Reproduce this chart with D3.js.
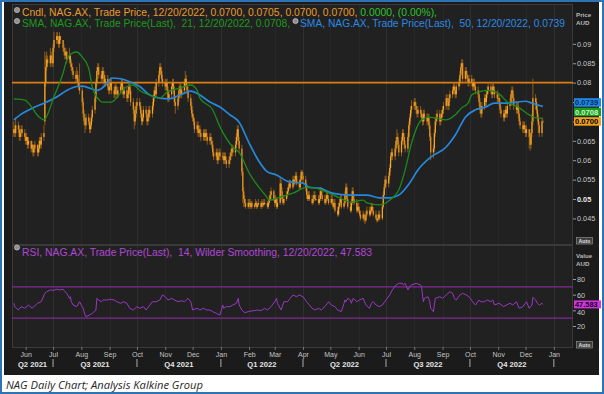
<!DOCTYPE html>
<html><head><meta charset="utf-8">
<script src="https://cdn.jsdelivr.net/npm/d3@7"></script>
<style>html,body{margin:0;padding:0;background:#fff;}svg{display:block;}text{white-space:pre;}</style>
</head><body><svg id="c" width="604" height="394"></svg>
<script>
// ---------------- DATA (prices in thousandths of AUD) ----------------
const firstDay = "2021-05-19", lastDay = "2022-12-20"; // trading days (weekdays)
const opens = [
 67,68,67,69,68,66,67,68,67,
 66,65,66,64,65,63,64,62,63,64,62,63,65,64,66,70,80,84,86,85,87,86,
 85,89,91,92,91,90,92,91,89,88,87,88,86,87,85,84,83,82,81,82,80,79,
 78,75,72,70,69,71,70,68,69,71,73,76,80,83,84,82,81,83,82,80,81,79,
 78,79,80,78,77,79,78,77,78,79,80,78,77,78,76,77,79,78,75,73,70,72,
 74,75,74,72,70,71,73,72,70,71,73,72,74,76,78,77,80,82,84,83,81,
 80,79,80,78,76,77,79,80,78,75,74,76,78,79,77,78,80,81,79,78,76,74,
 72,71,70,68,69,67,68,67,66,67,66,67,66,65,66,65,64,62,61,62,60,61,62,
 61,61,60,61,60,59,60,61,62,63,62,64,66,68,65,63,57,52,50,49,48,
 49,49,48,49,48,48.5,49,48,48.5,49,48,49,48.5,49,49,48,49,50,51,52,
 50,49,50,48,49,54,52,50,49,50,51,52,53,54,53,55,54,55,56,54,53,55,57,
 56,55,53,51,50,51,50,49,50,51,50,50,49,50,52,51,50,49,50,51,50,
 49,50,49,48,49,47,46,48,49,50,48,49,51,53,50,48,47,49,52,50,49,47,
 48,47,46,45,46,45,44.5,46,47,46,47,48,47,46,45,44.5,45,46,45,48,51,53,
 55,54,56,58,61,62,61,63,65,66,64,62,65,67,66,64,63,66,69,71,73,
 74,75,74,73,72,73,72,71,70,72,71,70,71,69,66,62,63,67,70,71,72,70,71,
 72,73,74,76,75,74,76,77,78,79,78,77,79,80,82,84,85,81,83,82,81,80,
 81,80,79,80,79,78,77,75,73,72,74,76,75,77,78,79,78,77,79,78,77,
 76,76,75,73,72,71,72,73,72,74,75,77,78,76,74,73,74,72,70,69,68,69,
 68,67,68,66,64,67,70,76,75,73,71,69,67,70];
const highs = [
 70,69,71,70,69,68,69,69,68,
 67,67,66,66,65,65,64,64,65,64,64,66,66,67,69,88,87,88,87,89,88,87,
 90,93,93,93,92,93,92,91,90,89,89,88,89,87,86,85,84,83,84,83,81,85,
 79,76,73,71,72,72,71,70,72,74,77,81,84,85,85,83,84,84,83,82,82,80,
 80,81,81,79,80,80,79,79,80,81,81,79,79,79,78,80,80,79,76,74,73,75,
 76,76,75,73,72,74,74,73,72,74,74,75,77,79,79,81,83,85,85,84,82,
 81,81,81,79,78,80,81,81,79,76,77,79,80,80,79,81,83,82,80,79,77,75,
 73,72,71,70,70,69,69,68,68,68,68,68,67,67,67,66,65,63,63,63,62,63,63,
 62,62,62,62,61,61,62,63,64,64,65,67,69,69,66,64,58,53,51,50,50,
 50,50,49.5,49.5,49,50,49.5,49,50,49.5,50,49.5,50,50,49.5,50,51,52,53,52.5,
 51,51,50.5,50,55.5,55,53,51,51,52,53,54,55,55,56,56,56,57,57,55,56,57.5,57.5,
 57,56,54,52,52,52,51,51,52,52,51,51,51,53,53,52,51,51,52,52,51,
 51,51,50,50,50,48,49,50,51,51,50,52,54,54,51,49,50,53,53,51,50,49,
 49,48,47,47,46.5,46,47,48,48,48,49,49,48,47,46,46,47,47,49,52,54,56,
 56,57,59,62,63,63,64,66,68,67,65,66,68,68,67,65,67,70,72,74,75.5,
 76,76,75,74,74,74,73,72,73,73,72,72,72,70,67,64,68,71,72,73,73,72,73,
 74,75,77,77,76,77,78,79,80,80,79,80,81,83,85,86,86,84,84,83,82,82,
 82,81,81,81,80,79,78,76,74,75,77,77,78,79,80,80,79,80,80,79,78,
 77,77,76,74,73,73,74,74,75,76,78,79,79,77,75,75,75,73,71,70,70,70,
 69,69,68,67,68,72,81,77,76,74,72,70,71,70.5];
const lows = [
 66,66,66,67,65,65,66,66,65,
 64,64,63,63,62,62,61,61,62,61,61,62,63,63,65,69,79,83,84,84,85,84,
 84,88,90,90,89,89,90,88,87,86,86,85,85,84,83,82,81,80,80,79,78,77,
 74,71,69,67,68,69,67,67,68,70,72,75,79,82,81,80,80,81,79,79,78,77,
 77,78,77,76,76,77,76,76,77,78,77,76,76,75,75,76,77,74,72,68,69,71,
 73,73,71,69,69,70,71,69,69,70,71,71,73,75,76,76,79,81,82,80,79,
 78,78,77,75,75,76,78,77,74,72,73,75,77,76,76,77,79,78,77,75,73,71,
 70,69,67,67,66,66,66,65,65,65,65,65,64,64,64,63,61,60,60,59,59,60,60,
 60,59,59,59,58,58,59,60,61,61,61,63,65,64,62,56,49,48,48,47.5,47.5,
 48,47.5,47.5,47.5,47.5,48,47.5,47.5,48,47.5,47.5,48,48,48.5,47.5,47.5,48.5,49.5,50,49.5,
 48,48.5,47.5,47.5,48.5,51.5,49.5,48.5,48.5,49.5,50.5,51.5,52.5,52.5,52.5,53.5,53.5,54.5,53.5,52.5,52.5,54.5,55,
 54,52,50,49.5,49.5,49.5,48.5,48.5,49.5,49.5,49.5,48.5,48.5,49.5,50.5,49.5,48.5,48.5,49.5,49.5,48.5,
 48.5,48.5,47.5,47.5,46.5,45.5,45.5,47.5,48.5,47.5,47.5,48.5,50.5,49.5,47.5,46.5,46.5,48.5,49.5,48.5,46.5,46.5,
 46.5,45.5,44.5,44.5,44,43.5,44,45.5,45.5,45.5,46.5,46.5,45.5,44.5,44,44,44.5,44.5,44.5,47.5,50.5,52.5,
 53,53,55,57,60,60,60,62,64,63,61,61,64,65,63,62,62,65,68,70,72,
 73,73,72,71,71,71,70,69,69,70,69,69,68,65,60,60.5,62,66,69,70,69,69,70,
 71,72,73,74,73,73,75,76,77,77,76,76,78,79,81,83,80,80,81,80,79,79,
 79,78,78,78,77,76,74,72,71,71,73,74,74,76,77,77,76,76,77,76,75,
 75,74,72,71,70,70,71,71,71,73,74,76,75,73,72,72,71,69,68,67,67,67,
 66,66,63,62.5,63,66,69,73,72,70,67,66,66,70];
const closes = [
 68,67,69,68,66,67,68,67,66,
 65,66,64,65,63,64,62,63,64,62,63,65,64,66,67,80,84,86,85,87,86,85,
 89,91,92,91,90,92,91,89,88,87,88,86,87,85,84,83,82,81,82,80,79,78,
 75,72,70,69,71,70,68,69,71,73,76,80,83,84,82,81,83,82,80,81,79,78,
 79,80,78,77,79,78,77,78,79,80,78,77,78,76,77,79,78,75,73,70,72,74,
 75,74,72,70,71,73,72,70,71,73,72,74,76,78,77,80,82,84,83,81,80,
 79,80,78,76,77,79,80,78,75,74,76,78,79,77,78,80,81,79,78,76,74,72,
 71,70,68,69,67,68,67,66,67,66,67,66,65,66,65,64,62,61,62,60,61,62,61,
 61,60,61,60,59,60,61,62,63,62,64,66,68,65,63,57,52,50,49,48,49,
 49,48,49,48,48.5,49,48,48.5,49,48,49,48.5,49,49,48,49,50,51,52,50,
 49,50,48,49,54,52,50,49,50,51,52,53,54,53,55,54,55,56,54,53,55,57,56,
 55,53,51,50,51,50,49,50,51,50,50,49,50,52,51,50,49,50,51,50,49,
 50,49,48,49,47,46,48,49,50,48,49,51,53,50,48,47,49,52,50,49,47,48,
 47,46,45,46,45,44.5,46,47,46,47,48,47,46,45,44.5,45,46,45,48,51,53,55,
 54,56,58,61,62,61,63,65,66,64,62,65,67,66,64,63,66,69,71,73,74,
 75,74,73,72,73,72,71,70,72,71,70,71,69,66,62,63,67,70,71,72,70,71,72,
 73,74,76,75,74,76,77,78,79,78,77,79,80,82,84,85,81,83,82,81,80,81,
 80,79,80,79,78,77,75,73,72,74,76,75,77,78,79,78,77,79,78,77,76,
 76,75,73,72,71,72,73,72,74,75,77,78,76,74,73,74,72,70,69,68,69,68,
 67,68,66,64,67,70,76,75,73,71,69,67,70,70];

const sma21Dates = ["2021-05-19","2021-05-31","2021-06-16","2021-06-21","2021-07-02","2021-07-12","2021-07-16","2021-07-22","2021-07-27","2021-08-02","2021-08-09","2021-08-13","2021-08-19","2021-08-24","2021-09-03","2021-09-13","2021-09-20","2021-09-27","2021-10-04","2021-10-15","2021-10-26","2021-11-03","2021-11-17","2021-11-29","2021-12-06","2021-12-09","2021-12-23","2021-12-31","2022-01-14","2022-01-21","2022-02-01","2022-02-21","2022-02-23","2022-03-07","2022-03-21","2022-04-05","2022-04-15","2022-04-27","2022-05-11","2022-05-23","2022-06-06","2022-06-10","2022-06-24","2022-07-05","2022-07-15","2022-07-22","2022-07-29","2022-08-09","2022-08-17","2022-08-24","2022-09-05","2022-09-15","2022-09-22","2022-09-29","2022-10-03","2022-10-10","2022-10-21","2022-11-01","2022-11-11","2022-11-23","2022-12-05","2022-12-12","2022-12-20"];
const sma21Values = [75.8,75.5,71.1,70.4,76.4,82.5,85.8,87.6,87.9,86.6,83.8,78.9,76.0,75.0,75.0,77.3,79.0,79.4,78.0,76.8,76.0,77.6,78.6,79.4,78.0,76.0,73.0,68.6,63.4,62.0,56.7,50.3,49.7,50.5,51.5,53.0,52.8,51.8,50.3,49.2,49.7,49.0,48.5,49.7,52.3,57.5,64.4,70.4,71.1,70.9,70.4,71.7,73.5,74.7,76.8,77.6,78.0,77.3,75.0,73.7,71.7,70.9,70.8];

const sma50Dates = ["2021-05-19","2021-05-26","2021-06-09","2021-06-24","2021-07-05","2021-07-16","2021-07-27","2021-08-02","2021-08-10","2021-08-18","2021-08-30","2021-09-03","2021-09-13","2021-09-23","2021-10-04","2021-10-15","2021-10-26","2021-11-05","2021-11-17","2021-11-29","2021-12-09","2021-12-20","2021-12-31","2022-01-11","2022-01-21","2022-02-01","2022-02-11","2022-02-21","2022-03-03","2022-03-17","2022-04-01","2022-04-08","2022-04-19","2022-05-03","2022-05-23","2022-06-10","2022-06-24","2022-07-05","2022-07-15","2022-07-26","2022-08-05","2022-08-19","2022-09-05","2022-09-15","2022-09-26","2022-10-07","2022-10-18","2022-10-28","2022-11-09","2022-11-21","2022-12-01","2022-12-08","2022-12-20"];
const sma50Values = [70.4,71.7,73.5,75.0,76.3,78.0,79.0,79.1,78.6,78.0,80.0,81.2,81.0,80.2,79.0,76.8,76.0,75.8,76.8,77.8,76.8,75.0,73.7,71.7,69.8,64.4,60.0,57.0,56.2,54.4,54.1,53.0,52.8,51.5,51.0,51.0,50.3,50.3,51.0,53.8,57.5,60.8,63.4,66.5,71.1,73.0,73.7,74.7,74.7,75.0,75.2,74.7,73.9];

const rsiDates = ["2021-05-19","2021-05-20","2021-05-24","2021-05-27","2021-05-31","2021-06-04","2021-06-08","2021-06-14","2021-06-18","2021-06-22","2021-06-24","2021-06-28","2021-07-01","2021-07-05","2021-07-08","2021-07-12","2021-07-14","2021-07-16","2021-07-19","2021-07-20","2021-07-21","2021-07-23","2021-07-27","2021-07-30","2021-08-02","2021-08-03","2021-08-05","2021-08-06","2021-08-10","2021-08-13","2021-08-17","2021-08-18","2021-08-20","2021-08-23","2021-08-25","2021-08-30","2021-09-01","2021-09-06","2021-09-09","2021-09-13","2021-09-16","2021-09-20","2021-09-23","2021-09-27","2021-10-01","2021-10-04","2021-10-08","2021-10-11","2021-10-18","2021-10-22","2021-10-26","2021-10-29","2021-11-01","2021-11-04","2021-11-08","2021-11-11","2021-11-15","2021-11-19","2021-11-22","2021-11-26","2021-11-29","2021-12-01","2021-12-06","2021-12-09","2021-12-13","2021-12-16","2021-12-20","2021-12-23","2021-12-27","2021-12-31","2022-01-03","2022-01-04","2022-01-07","2022-01-11","2022-01-14","2022-01-18","2022-01-20","2022-01-21","2022-01-24","2022-01-27","2022-01-31","2022-02-03","2022-02-07","2022-02-10","2022-02-14","2022-02-18","2022-02-21","2022-02-25","2022-03-01","2022-03-03","2022-03-04","2022-03-08","2022-03-11","2022-03-15","2022-03-18","2022-03-21","2022-03-25","2022-03-28","2022-04-01","2022-04-05","2022-04-11","2022-04-14","2022-04-18","2022-04-21","2022-04-25","2022-04-28","2022-04-29","2022-05-02","2022-05-06","2022-05-09","2022-05-13","2022-05-16","2022-05-17","2022-05-18","2022-05-20","2022-05-23","2022-05-24","2022-05-26","2022-05-30","2022-06-02","2022-06-06","2022-06-09","2022-06-13","2022-06-15","2022-06-17","2022-06-20","2022-06-24","2022-06-27","2022-07-01","2022-07-05","2022-07-08","2022-07-12","2022-07-15","2022-07-19","2022-07-20","2022-07-22","2022-07-25","2022-07-27","2022-07-29","2022-08-03","2022-08-08","2022-08-09","2022-08-10","2022-08-11","2022-08-12","2022-08-16","2022-08-18","2022-08-19","2022-08-22","2022-08-24","2022-08-29","2022-09-01","2022-09-05","2022-09-09","2022-09-12","2022-09-14","2022-09-16","2022-09-20","2022-09-23","2022-09-27","2022-09-30","2022-10-04","2022-10-07","2022-10-11","2022-10-13","2022-10-17","2022-10-20","2022-10-24","2022-10-26","2022-10-28","2022-11-02","2022-11-07","2022-11-10","2022-11-14","2022-11-17","2022-11-21","2022-11-24","2022-11-28","2022-12-02","2022-12-05","2022-12-08","2022-12-09","2022-12-12","2022-12-14","2022-12-16","2022-12-19","2022-12-20"];
const rsiValues = [49,44.7,40.4,44.7,42.6,46.8,42.6,49,51,61.7,63.8,66,65.5,66.9,66,66.9,63.8,61.7,55.3,57.4,51,46.8,44.7,51,44.7,42.6,34,31.9,34,36.2,40.4,55.3,53.2,51,53.2,53.2,54.1,53.2,51,49,51,49,42.6,40.4,44.7,42.6,44.7,40.4,51,51,53.2,59.6,57.4,53.2,55.3,53.2,51,52.3,51,55.3,51,40.4,42.6,40.4,42.6,40.4,40.4,38.3,36.2,34,46.8,42.6,44.7,44.7,46.8,49,55.3,46.8,40.4,37,38.3,39.2,39.6,40.4,39.6,42.6,40.4,44.7,51,55.3,49,40.4,51,51,55.3,59.6,57.4,59.6,57.4,51,42.6,40.4,42.6,40.4,44.7,49,51,46.8,44.7,40.4,38.3,49,53.2,51,55.3,53.2,49,55.3,51,53.2,55.3,46.8,42.6,49,51,46.8,44.7,46.8,53.2,59.6,66,72.4,74.5,74.5,72.4,74.5,66,70.2,72.4,74.5,72.4,70.2,59.6,51,55.3,57.4,51,42.6,38.3,55.3,57.4,55.3,59.6,63.8,61.7,55.3,53.2,59.6,61.7,59.6,57.4,51,46.8,53.2,51,51,53.2,51,53.2,46.8,49,44.7,46.8,49,46.8,51,42.6,44.7,51,42.6,46.8,56.6,53.2,49,46.8,49,47.583];

const priceTicks = [0.045,0.05,0.055,0.06,0.065,0.07,0.075,0.08,0.085,0.09];
const priceTicksCovered = [0.07,0.075]; // labels hidden behind the last-value boxes
const rsiTicks = [20,40,60,80];
const resistanceLevel = 0.08;
const rsiBands = [70,30];
const quarterLabels = ["Q2 2021","Q3 2021","Q4 2021","Q1 2022","Q2 2022","Q3 2022","Q4 2022"];
const lastValues = {sma50:0.0739, sma21:0.0708, close:0.0700, rsi:47.583};

// ---------------- LAYOUT ----------------
const W=604,H=394, L=12, R=573, pTop=4, pBot=244, rTop=245, rBot=347;
const svg=d3.select("#c");
const parse=d3.timeParse("%Y-%m-%d");
const FONT="'Liberation Sans', Arial, sans-serif";

svg.append("rect").attr("width",W).attr("height",H).attr("fill","#fff");
svg.append("rect").attr("x",1).attr("y",1).attr("width",W-2).attr("height",H-2)
  .attr("fill","none").attr("stroke","#2e74b5").attr("stroke-width",2);
svg.append("rect").attr("x",4).attr("y",2).attr("width",595).attr("height",373).attr("fill","#1b1b1b");
svg.append("rect").attr("x",L).attr("y",pTop).attr("width",R-L).attr("height",rBot-pTop).attr("fill","#212121");

const x=d3.scaleTime().domain([new Date(2021,4,17),new Date(2023,0,22)]).range([L,R]);
const yp=d3.scaleLinear().domain([0.0384,0.0977]).range([pBot,pTop+10]);
const yr=d3.scaleLinear().domain([-6.8,123.4]).range([rBot,rTop]);

// vertical grid at month starts
const months=d3.timeMonth.range(new Date(2021,5,1),new Date(2023,0,2));
svg.append("g").selectAll("line").data(months).join("line")
  .attr("x1",d=>Math.round(x(d))+0.5).attr("x2",d=>Math.round(x(d))+0.5)
  .attr("y1",pTop).attr("y2",rBot)
  .attr("stroke",d=>d.getMonth()%3===0?"#2f2f2f":"#282828").attr("stroke-width",1);

// pane frames
svg.append("rect").attr("x",L+0.5).attr("y",pTop+0.5).attr("width",R-L-1).attr("height",pBot-pTop)
  .attr("fill","none").attr("stroke","#3a3a3a");
svg.append("rect").attr("x",L+0.5).attr("y",rTop+0.5).attr("width",R-L-1).attr("height",rBot-rTop)
  .attr("fill","none").attr("stroke","#3a3a3a");

svg.append("clipPath").attr("id","cp").append("rect").attr("x",L).attr("y",pTop).attr("width",R-L).attr("height",pBot-pTop);
svg.append("clipPath").attr("id","cr").append("rect").attr("x",L).attr("y",rTop).attr("width",R-L).attr("height",rBot-rTop);

// trading days
const days=d3.timeDay.range(parse(firstDay),d3.timeDay.offset(parse(lastDay),1)).filter(d=>d.getDay()%6!==0);
const n=Math.min(days.length,opens.length,highs.length,lows.length,closes.length);
const candles=d3.range(n).map(i=>({d:days[i],o:opens[i]/1000,h:highs[i]/1000,l:lows[i]/1000,c:closes[i]/1000}));

const gp=svg.append("g").attr("clip-path","url(#cp)");
// resistance line
gp.append("line").attr("x1",L).attr("x2",R).attr("y1",yp(resistanceLevel)).attr("y2",yp(resistanceLevel))
  .attr("stroke","#e07d10").attr("stroke-width",1.8);
// candles
gp.append("g").selectAll("line").data(candles).join("line")
  .attr("x1",d=>x(d.d)).attr("x2",d=>x(d.d)).attr("y1",d=>yp(d.h)).attr("y2",d=>yp(d.l))
  .attr("stroke","#a86a18").attr("stroke-width",0.8);
gp.append("g").selectAll("rect").data(candles).join("rect")
  .attr("x",d=>x(d.d)-0.6).attr("width",1.25)
  .attr("y",d=>yp(Math.max(d.o,d.c)))
  .attr("height",d=>Math.max(1,Math.abs(yp(d.o)-yp(d.c))))
  .attr("fill",d=>d.c>=d.o?"#f6a623":"#e39420");
// SMAs
const line=(ys)=>d3.line().x(d=>x(d[0])).y(d=>ys(d[1])).curve(d3.curveMonotoneX);
gp.append("path").datum(sma50Dates.map((d,i)=>[parse(d),sma50Values[i]/1000]))
  .attr("d",line(yp)).attr("fill","none").attr("stroke","#2688dc").attr("stroke-width",1.7);
gp.append("path").datum(sma21Dates.map((d,i)=>[parse(d),sma21Values[i]/1000]))
  .attr("d",line(yp)).attr("fill","none").attr("stroke","#1d8a1d").attr("stroke-width",1.3);

// RSI pane
const gr=svg.append("g").attr("clip-path","url(#cr)");
gr.selectAll("line.band").data(rsiBands).join("line").attr("class","band")
  .attr("x1",L).attr("x2",R).attr("y1",d=>yr(d)).attr("y2",d=>yr(d))
  .attr("stroke","#7e2a95").attr("stroke-width",1.4);
gr.append("path").datum(rsiDates.map((d,i)=>[parse(d),rsiValues[i]]))
  .attr("d",d3.line().x(d=>x(d[0])).y(d=>yr(d[1]))).attr("fill","none").attr("stroke","#9b37c2").attr("stroke-width",1);

// right axes
function styleAxis(g){
  g.select(".domain").remove();
  g.selectAll(".tick line").attr("stroke","#9a9a9a");
  g.selectAll(".tick text").attr("fill","#c4c4c4").attr("font-family",FONT).attr("font-size",7.3);
}
const ax=svg.append("g").attr("transform",`translate(${R},0)`)
  .call(d3.axisRight(yp).tickValues(priceTicks).tickSize(3).tickPadding(1)
    .tickFormat(d=>priceTicksCovered.some(c=>Math.abs(c-d)<1e-9)?"":String(+d.toFixed(3))));
styleAxis(ax);
ax.selectAll(".tick text").filter(d=>Math.abs(d-0.05)<1e-9).attr("font-weight","bold").attr("fill","#e8e8e8");
const axr=svg.append("g").attr("transform",`translate(${R},0)`)
  .call(d3.axisRight(yr).tickValues(rsiTicks).tickSize(3).tickPadding(1));
styleAxis(axr);
axr.selectAll(".tick text").filter(d=>d===40).attr("dy","0.62em");

const hdr=(t,y)=>svg.append("text").attr("x",576).attr("y",y).text(t).attr("fill","#b8b8b8")
  .attr("font-family",FONT).attr("font-size",6.2).attr("font-weight","bold");
hdr("Price",17); hdr("AUD",25); hdr("Value",258); hdr("AUD",266);

// value boxes (stacked upward to avoid overlap)
const boxes=[
  {v:lastValues.close,label:"0.0700",fill:"#f29f1c",tc:"#000"},
  {v:lastValues.sma21,label:"0.0708",fill:"#1e9a1e",tc:"#c9f5c9"},
  {v:lastValues.sma50,label:"0.0739",fill:"#1f87e6",tc:"#082a55"}];
let prevTop=null; const bh=8.5;
boxes.forEach(b=>{
  let cy=yp(b.v);
  if(prevTop!==null && cy+bh/2>prevTop-1) cy=prevTop-1-bh/2;
  prevTop=cy-bh/2;
  svg.append("rect").attr("x",574).attr("y",cy-bh/2).attr("width",27).attr("height",bh).attr("fill",b.fill);
  svg.append("text").attr("x",575).attr("y",cy+3).text(b.label).attr("fill",b.tc)
    .attr("font-family",FONT).attr("font-size",7.6).attr("font-weight","bold");
});
{
  const cy=yr(lastValues.rsi);
  svg.append("rect").attr("x",574).attr("y",cy-4).attr("width",27).attr("height",8).attr("fill","#cc36dc");
  svg.append("text").attr("x",575).attr("y",cy+2.8).text(String(lastValues.rsi)).attr("fill","#1a0020")
    .attr("font-family",FONT).attr("font-size",7.4).attr("font-weight","bold");
}
// Auto buttons
[[576,237],[576,341]].forEach(([bx,by])=>{
  svg.append("rect").attr("x",bx+0.5).attr("y",by+0.5).attr("width",16).attr("height",6.5)
    .attr("fill","#3c3c3c").attr("stroke","#8c8c8c").attr("stroke-width",0.7);
  svg.append("text").attr("x",bx+8.5).attr("y",by+5.6).attr("text-anchor","middle").text("Auto")
    .attr("fill","#e0e0e0").attr("font-family",FONT).attr("font-size",5.2).attr("font-weight","bold");
});

// bottom axis
const bx=svg.append("g").attr("transform",`translate(0,${rBot})`)
  .call(d3.axisBottom(x).tickValues(months).tickSize(3).tickPadding(1).tickFormat(d3.timeFormat("%b")));
bx.select(".domain").remove();
bx.selectAll(".tick line").attr("stroke","#777");
bx.selectAll(".tick text").attr("fill","#c4c4c4").attr("font-family",FONT).attr("font-size",7).attr("dy","0.9em");
const qStarts=[new Date(2021,6,1),new Date(2021,9,1),new Date(2022,0,1),new Date(2022,3,1),new Date(2022,6,1),new Date(2022,9,1),new Date(2023,0,1)];
svg.append("g").selectAll("line").data(qStarts).join("line")
  .attr("x1",d=>x(d)).attr("x2",d=>x(d)).attr("y1",359).attr("y2",367).attr("stroke","#bdbdbd").attr("stroke-width",0.9);
const qEdges=[x.domain()[0]].concat(qStarts);
svg.append("g").selectAll("text").data(quarterLabels).join("text")
  .attr("x",(d,i)=>(Math.max(L,x(qEdges[i]))+x(qEdges[i+1]))/2).attr("y",366.5)
  .attr("text-anchor","middle").text(d=>d).attr("fill","#e4e4e4")
  .attr("font-family",FONT).attr("font-size",7.6).attr("font-weight","bold");

// legends
function bullet(cx,cy){
  svg.append("circle").attr("cx",cx).attr("cy",cy).attr("r",2.6).attr("fill","#8f8f8f").attr("stroke","#d4d4d4").attr("stroke-width",0.6);
}
function legend(xp,y,parts,len){
  const t=svg.append("text").attr("x",xp).attr("y",y).attr("font-family",FONT).attr("font-size",10.4);
  parts.forEach(p=>t.append("tspan").attr("fill",p[1]).text(p[0]));
  if(len) t.attr("textLength",len).attr("lengthAdjust","spacingAndGlyphs");
}
bullet(17,10);
legend(22,16,[["Cndl, NAG.AX, Trade Price, 12/20/2022, 0.0700, 0.0705, 0.0700, 0.0700, ","#e99b2c"],["0.0000, (0.00%),","#2cc22c"]],415);
bullet(17,21);
legend(22,27,[["SMA, NAG.AX, Trade Price(Last),  21, 12/20/2022, 0.0708,","#1d9a1d"]],268);
bullet(295.5,21);
legend(300,27,[["SMA, NAG.AX, Trade Price(Last),  50, 12/20/2022, 0.0739","#2a8ae4"]],265);
bullet(17,247.5);
legend(22,256,[["RSI, NAG.AX, Trade Price(Last),  14, Wilder Smoothing, 12/20/2022, 47.583","#b047d6"]],350);

// caption
svg.append("text").attr("x",6).attr("y",389).text("NAG Daily Chart; Analysis Kalkine Group")
  .attr("font-family","'Open Sans', 'Liberation Sans', sans-serif").attr("font-style","italic").attr("font-size",11)
  .attr("fill","#262626").attr("textLength",197).attr("lengthAdjust","spacingAndGlyphs");
</script></body></html>
